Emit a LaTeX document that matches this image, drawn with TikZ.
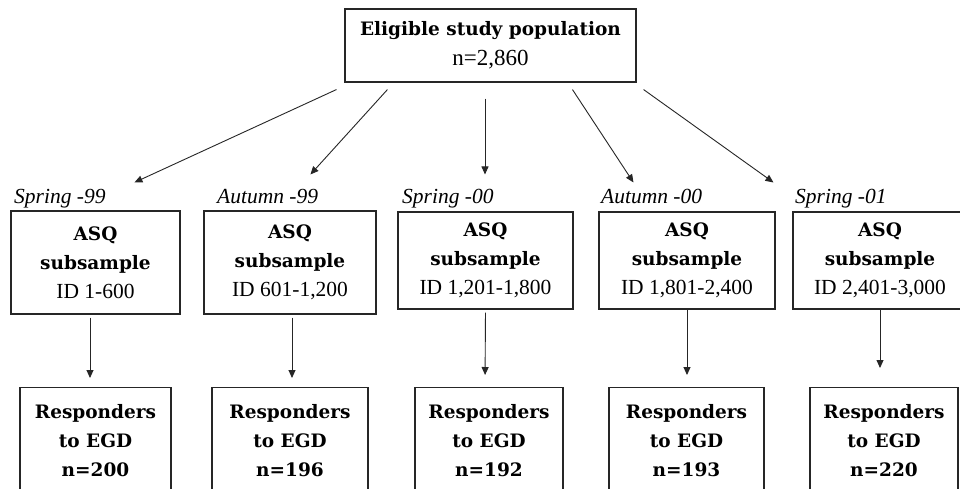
\documentclass[tikz,border=0pt]{standalone}
\usepackage{fontspec}
\setmainfont{Liberation Serif}
\newfontfamily\slabfont{DejaVu Serif}
\usetikzlibrary{arrows.meta}
\newcommand\hd[1]{{\slabfont\bfseries\fontsize{18.5}{29}\selectfont #1}}
\tikzset{
  x=1pt,y=-1pt,
  boxst/.style={draw=black!85,line width=1.1pt,inner sep=0pt,align=center,
    font=\fontsize{21.5}{29}\selectfont},
  seasonst/.style={anchor=base west,inner sep=0pt,font=\itshape\fontsize{21.5}{24}\selectfont},
  arr/.style={draw=black!85,line width=0.9pt,-{Triangle[length=8pt,width=7pt]}}
}
\begin{document}
\begin{tikzpicture}
\clip (0,0) rectangle (960,488);
\fill[white] (0,0) rectangle (960,488);
% top box
\node[boxst,minimum width=291pt,minimum height=73pt,font=\fontsize{23}{30}\selectfont] (top) at (490.5,45.5)
  {\hd{Eligible study population}\\n=2,860};
% middle boxes
\node[boxst,minimum width=169pt,minimum height=103pt] (m1) at (95.5,262.5)
  {\hd{ASQ}\\\hd{subsample}\\ID 1-600};
\node[boxst,minimum width=172pt,minimum height=103pt] (m2) at (290,262.5)
  {\hd{ASQ}\\\hd{subsample}\\ID 601-1,200};
\node[boxst,minimum width=175pt,minimum height=97pt] (m3) at (485.5,260.5)
  {\hd{ASQ}\\\hd{subsample}\\ID 1,201-1,800};
\node[boxst,minimum width=176pt,minimum height=97pt] (m4) at (687,260.5)
  {\hd{ASQ}\\\hd{subsample}\\ID 1,801-2,400};
\node[boxst,minimum width=174pt,minimum height=97pt] (m5) at (880,260.5)
  {\hd{ASQ}\\\hd{subsample}\\ID 2,401-3,000};
% season labels
\node[seasonst] (s1) at (14,203) {Spring -99};
\node[seasonst] (s2) at (217,203) {Autumn -99};
\node[seasonst] (s3) at (402,203) {Spring -00};
\node[seasonst] (s4) at (601,203) {Autumn -00};
\node[seasonst] (s5) at (795,203) {Spring -01};
% bottom boxes
\node[boxst,anchor=north,minimum width=151pt,minimum height=130pt] (b1) at (95.5,387) {};
\node[boxst,anchor=north,minimum width=156pt,minimum height=130pt] (b2) at (290,387) {};
\node[boxst,anchor=north,minimum width=148pt,minimum height=130pt] (b3) at (489,387) {};
\node[boxst,anchor=north,minimum width=155pt,minimum height=130pt] (b4) at (686.5,387) {};
\node[boxst,anchor=north,minimum width=148pt,minimum height=130pt] (b5) at (884,387) {};
\foreach \b/\n in {b1/200,b2/196,b3/192,b4/193,b5/220}{
  \node[anchor=base,inner sep=0pt,align=center,font=\fontsize{18.5}{29}\selectfont]
    (t\b) at ([yshift=-89pt]\b.north) {\hd{Responders}\\\hd{to EGD}\\\hd{n=\n}};
}
% arrows from top
\draw[arr] ([shift={(-8,7)}]top.south west) -- ([shift={(124,-28)}]m1.north west);
\draw[arr] ([shift={(43,7)}]top.south west) -- ([shift={(107,-36)}]m2.north west);
\draw[arr] ([shift={(-5.5,16)}]top.south) -- ([shift={(-0.5,-37)}]m3.north);
\draw[arr] ([shift={(228,7)}]top.south west) -- ([shift={(35,-29)}]m4.north west);
\draw[arr] ([shift={(7,7)}]top.south east) -- ([shift={(-19,-29)}]m5.north west);
% arrows down
\draw[arr,shorten <=3pt,shorten >=9pt] ([xshift=-5.5pt]m1.south) -- ([xshift=-5.5pt]b1.north);
\draw[arr,shorten <=3pt,shorten >=9pt] ([xshift=2pt]m2.south) -- ([xshift=2pt]b2.north);
\draw[arr,shorten <=3pt,shorten >=12pt] (m3.south) -- ([xshift=-4pt]b3.north);
\draw[arr,shorten <=0pt,shorten >=12pt] (m4.south) -- ([xshift=0.5pt]b4.north);
\draw[arr,shorten <=0pt,shorten >=19pt] (m5.south) -- ([xshift=-4pt]b5.north);
\end{tikzpicture}
\end{document}
